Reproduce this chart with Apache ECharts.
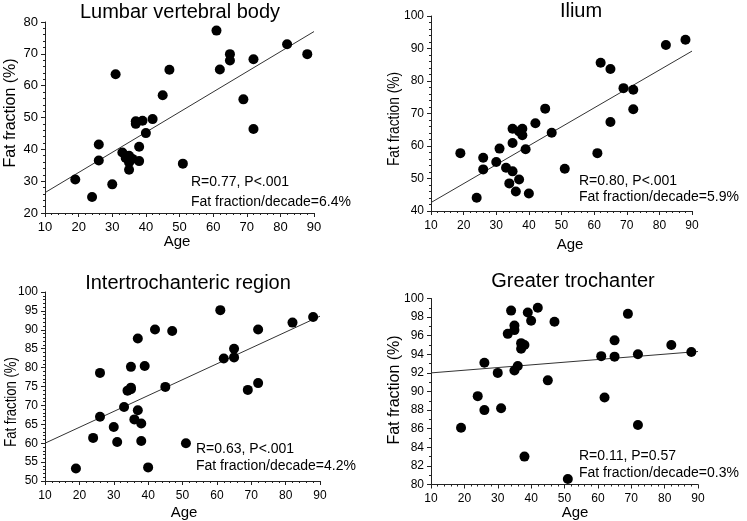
<!DOCTYPE html>
<html><head><meta charset="utf-8">
<script src="https://cdn.jsdelivr.net/npm/echarts@6/dist/echarts.min.js"></script>
<style>html,body{margin:0;padding:0;background:#fff}#c{width:747px;height:521px}</style>
</head><body><div id="c"></div>
<script>
// ---- data ----
const titles = ["Lumbar vertebral body", "Ilium", "Intertrochanteric region", "Greater trochanter"];
const xName = "Age";
const yName = "Fat fraction (%)";
const stats1 = ["R=0.77, P<.001", "Fat fraction/decade=6.4%"];
const stats2 = ["R=0.80, P<.001", "Fat fraction/decade=5.9%"];
const stats3 = ["R=0.63, P<.001", "Fat fraction/decade=4.2%"];
const stats4 = ["R=0.11, P=0.57", "Fat fraction/decade=0.3%"];

const ages = [19, 24, 26, 26, 30, 31, 33, 34, 35, 35, 35, 36, 37, 37, 38, 38, 39, 40, 42, 45, 47, 51, 61, 62, 65, 65, 69, 72, 72, 82, 88];
const lumbar = [30.5, 25.0, 41.5, 36.5, 29.0, 63.6, 39.0, 37.3, 38.0, 33.6, 35.9, 37.0, 48.8, 48.0, 40.8, 36.3, 49.0, 45.1, 49.5, 57.0, 65.0, 35.5, 77.3, 65.1, 69.9, 67.9, 55.7, 68.3, 46.4, 73.0, 69.9];
const ilium = [57.8, 44.1, 56.4, 52.8, 55.1, 59.2, 53.3, 48.5, 65.3, 60.9, 52.2, 46.0, 49.7, 64.5, 65.3, 63.3, 59.0, 45.4, 67.0, 71.5, 64.1, 53.0, 57.8, 85.6, 83.7, 67.4, 77.8, 77.3, 71.3, 91.1, 92.7];
const intertroch = [53.3, 61.4, 67.0, 78.6, 64.3, 60.3, 69.6, 73.9, 74.3, 74.7, 80.2, 66.3, 68.7, 87.7, 65.2, 60.6, 80.4, 53.6, 90.1, 74.9, 89.7, 60.0, 95.2, 82.4, 85.0, 82.7, 74.1, 75.9, 90.1, 91.9, 93.4];
const greaterTroch = [86.1, 89.5, 93.1, 88.0, 92.0, 88.2, 96.2, 98.7, 97.1, 96.6, 92.25, 92.75, 95.2, 94.6, 95.0, 83.0, 98.5, 97.6, 99.0, 91.2, 97.5, 80.6, 93.8, 89.35, 95.5, 93.75, 98.35, 94.0, 86.4, 95.0, 94.25];

const fitAges = [10, 90];
const fit1 = [26.4, 77.0];
const fit2 = [42.6, 89.2];
const fit3 = [60.0, 93.6];
const fit4 = [92.0, 94.3];

const xTicks = {min: 10, max: 90, interval: 10};
const yTicks1 = {min: 20, max: 80, interval: 10};
const yTicks2 = {min: 40, max: 100, interval: 10};
const yTicks3 = {min: 50, max: 100, interval: 5};
const yTicks4 = {min: 80, max: 100, interval: 2};

// ---- layout ----
const FONT = '"Liberation Sans", Arial, sans-serif';
const grids = [
  {left: 45, top: 22, width: 269, height: 191},
  {left: 431, top: 16, width: 261, height: 195},
  {left: 45, top: 292, width: 275, height: 189},
  {left: 431, top: 298.5, width: 267, height: 186}
];
const yMinor = [5, 5, 5, 2];
const yTickSets = [yTicks1, yTicks2, yTicks3, yTicks4];
const dataSets = [lumbar, ilium, intertroch, greaterTroch];
const fits = [fit1, fit2, fit3, fit4];
const statsAll = [stats1, stats2, stats3, stats4];

const axisCommon = {
  axisLine: {show: true, lineStyle: {color: '#222', width: 1}},
  axisTick: {show: true, length: 4, lineStyle: {color: '#222'}},
  splitLine: {show: false},
};

const xAxes = grids.map((g, i) => Object.assign({}, axisCommon, {
  type: 'value', gridIndex: i, min: xTicks.min, max: xTicks.max, interval: xTicks.interval,
  minorTick: {show: true, splitNumber: 5, length: 2, lineStyle: {color: '#222'}},
  axisLabel: {color: '#000', fontSize: i === 0 ? 13 : 12, fontFamily: FONT, margin: [8, 9, 9, 8][i]}
}));
const yAxes = grids.map((g, i) => Object.assign({}, axisCommon, {
  type: 'value', gridIndex: i, min: yTickSets[i].min, max: yTickSets[i].max, interval: yTickSets[i].interval,
  minorTick: {show: true, splitNumber: yMinor[i], length: 2, lineStyle: {color: '#222'}},
  axisLabel: {color: '#000', fontSize: i === 0 ? 13 : 12, fontFamily: FONT, margin: 7}
}));

const series = [];
dataSets.forEach((d, i) => {
  series.push({
    type: 'scatter', xAxisIndex: i, yAxisIndex: i, symbol: 'circle', symbolSize: 10,
    itemStyle: {color: '#000', opacity: 1}, clip: false, silent: true, z: 3,
    data: ages.map((a, k) => [a, d[k]])
  });
  series.push({
    type: 'line', xAxisIndex: i, yAxisIndex: i, showSymbol: false, symbol: 'none',
    lineStyle: {color: '#333', width: 1}, silent: true, z: 1,
    data: fitAges.map((a, k) => [a, fits[i][k]])
  });
});

const titlePos = [[180, 12], [581, 11], [188, 283], [573, 281]];
const agePos = [[177, 242], [570, 245], [184, 513], [575, 513]];
const yNamePos = [[10, 113], [394, 119], [11, 402], [394, 390]];
const yNameScale = [0.94, 0.81, 0.77, 0.94];
const statsPos = [[191, 182, 20], [579, 181, 16], [196, 449, 17], [579, 456, 17]];

const graphic = [];
titles.forEach((t, i) => graphic.push({type: 'text', x: titlePos[i][0], y: titlePos[i][1],
  style: {text: t, font: '20px ' + FONT, fill: '#000', textAlign: 'center', textVerticalAlign: 'middle', align: 'center', verticalAlign: 'middle'}}));
agePos.forEach((p) => graphic.push({type: 'text', x: p[0], y: p[1],
  style: {text: xName, font: '15px ' + FONT, fill: '#000', textAlign: 'center', textVerticalAlign: 'middle', align: 'center', verticalAlign: 'middle'}}));
yNamePos.forEach((p, i) => graphic.push({type: 'text', x: p[0], y: p[1], rotation: Math.PI / 2, scaleX: yNameScale[i],
  style: {text: yName, font: '17px ' + FONT, fill: '#000', textAlign: 'center', textVerticalAlign: 'middle', align: 'center', verticalAlign: 'middle'}}));
statsAll.forEach((s, i) => s.forEach((line, k) => graphic.push({type: 'text', x: statsPos[i][0], y: statsPos[i][1] + k * statsPos[i][2],
  style: {text: line, font: '14px ' + FONT, fill: '#000', textAlign: 'left', textVerticalAlign: 'middle', align: 'left', verticalAlign: 'middle'}})));

const chart = echarts.init(document.getElementById('c'), null, {renderer: 'canvas'});
chart.setOption({
  animation: false,
  backgroundColor: '#fff',
  grid: grids.map(g => Object.assign({containLabel: false, outerBoundsMode: 'none'}, g)),
  xAxis: xAxes,
  yAxis: yAxes,
  series: series,
  graphic: graphic
});
</script></body></html>
